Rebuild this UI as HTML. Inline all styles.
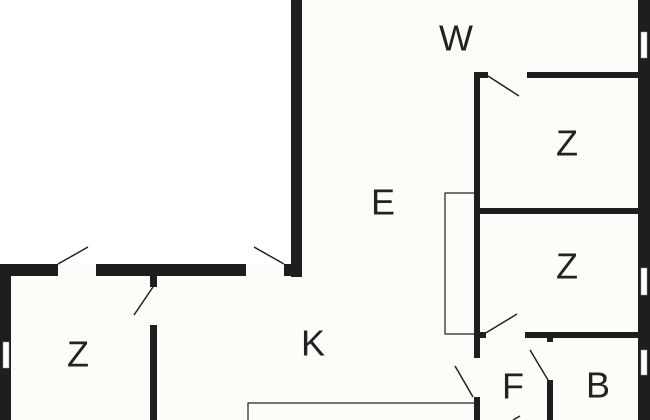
<!DOCTYPE html>
<html><head><style>
html,body{margin:0;padding:0;background:#fff;}
svg{display:block;}
text{font-family:"Liberation Sans",sans-serif;font-size:36px;fill:#222;text-anchor:middle;dominant-baseline:central;}
</style></head><body>
<svg width="650" height="420" viewBox="0 0 650 420">
<rect width="650" height="420" fill="#fcfcf8"/>
<rect x="0" y="0" width="291" height="264" fill="#fff"/>
<g fill="#1e1e1e">
<rect x="291" y="0" width="11" height="277"/>
<rect x="0" y="264" width="58" height="12"/>
<rect x="96" y="264" width="150" height="12"/>
<rect x="284" y="264" width="18" height="12"/>
<rect x="0" y="264" width="11" height="156"/>
<rect x="150" y="276" width="7" height="11"/>
<rect x="150" y="325" width="7" height="95"/>
<rect x="638" y="0" width="12" height="420"/>
<rect x="474" y="72" width="14" height="6"/>
<rect x="527" y="72" width="111" height="6"/>
<rect x="474" y="72" width="6" height="286"/>
<rect x="474" y="208" width="164" height="6"/>
<rect x="474" y="332" width="12" height="6"/>
<rect x="525" y="332" width="113" height="6"/>
<rect x="474" y="397" width="6" height="23"/>
<rect x="547" y="336" width="6" height="6"/>
<rect x="547" y="380" width="6" height="40"/>
</g>
<g fill="#fff" stroke="#999" stroke-width="0.5">
<rect x="3" y="342" width="6" height="26"/>
<rect x="641" y="32" width="6" height="26"/>
<rect x="641" y="268" width="6" height="27"/>
<rect x="641" y="350" width="6" height="25"/>
</g>
<g stroke="#222" stroke-width="1.5" fill="none">
<line x1="58" y1="264" x2="88" y2="247"/>
<line x1="284" y1="264" x2="254" y2="247"/>
<line x1="153" y1="287" x2="134" y2="315"/>
<line x1="488" y1="76" x2="519" y2="96"/>
<line x1="484" y1="334" x2="517" y2="314"/>
<line x1="473" y1="397" x2="455" y2="366"/>
<line x1="548" y1="380" x2="530" y2="350"/>
<line x1="513" y1="420" x2="520" y2="416"/>
<polyline points="474,193 445,193 445,334 474,334" stroke-width="1.2"/>
<polyline points="248,420 248,403 474,403" stroke-width="1.2"/>
</g>
<text x="456" y="38">W</text>
<text x="567" y="143">Z</text>
<text x="383" y="202">E</text>
<text x="567" y="266">Z</text>
<text x="313" y="343">K</text>
<text x="78" y="354">Z</text>
<text x="513" y="386">F</text>
<text x="598" y="385">B</text>
</svg>
</body></html>
